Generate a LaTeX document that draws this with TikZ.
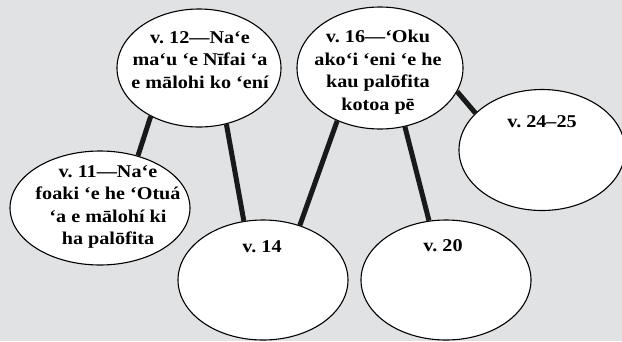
\documentclass[tikz,border=0pt]{standalone}
\usepackage{fontspec}
\setmainfont{Liberation Serif}[FakeStretch=1.12]
\usetikzlibrary{shapes.geometric}
\definecolor{bg}{HTML}{E1E2E4}
\tikzset{
  bubble/.style={ellipse,draw=black,fill=white,line width=1.1pt,inner sep=0pt},
  txt/.style={font=\fontsize{18}{22.5}\selectfont\bfseries\frenchspacing,align=center,inner sep=0pt},
  link/.style={line width=5pt,draw=black!90}
}
\begin{document}
\begin{tikzpicture}[x=1pt,y=-1pt]
\fill[bg] (0,0) rectangle (622,341);
\useasboundingbox (0,0) rectangle (622,341);
\node[bubble,minimum width=164pt,minimum height=118pt] (e12) at (199,68) {};
\node[bubble,minimum width=166pt,minimum height=122pt] (e16) at (380,68) {};
\node[bubble,minimum width=180pt,minimum height=114pt] (e11) at (100,208) {};
\node[bubble,minimum width=166pt,minimum height=121pt] (e24) at (542,150) {};
\node[bubble,minimum width=170pt,minimum height=120pt] (e14) at (263,280) {};
\node[bubble,minimum width=170pt,minimum height=120pt] (e20) at (446,280) {};
\draw[link] (e11.54) -- (e12.225);
\draw[link] (e12.-64) -- (e14.108.7);
\draw[link] (e16.-129) -- (e14.56.5);
\draw[link] (e16.-67) -- (e20.106.7);
\draw[link] (e16.-17.6) -- (e24.151);
\node[txt] (t12) at (200,60) {v. 12—Na‘e\\ma‘u ‘e Nīfai ‘a\\e mālohi ko ‘ení};
\node[txt] (t16) at (378,72) {v. 16—‘Oku\\ako‘i ‘eni ‘e he\\kau palōfita\\kotoa pē};
\node[txt] (t11) at (108,207) {v. 11—Na‘e\\foaki ‘e he ‘Otuá\\‘a e mālohí ki\\ha palōfita};
\node[txt,anchor=base] (t24) at (542,127) {v. 24–25};
\node[txt,anchor=base] (t14) at (262,252) {v. 14};
\node[txt,anchor=base] (t20) at (443,251) {v. 20};
\end{tikzpicture}
\end{document}
